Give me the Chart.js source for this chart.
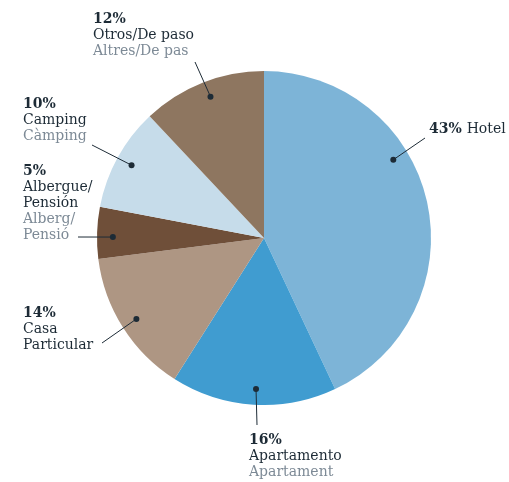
<!DOCTYPE html>
<html>
<head>
<meta charset="utf-8">
<script src="https://cdn.jsdelivr.net/npm/chart.js@4"></script>
<style>
  html, body { margin: 0; padding: 0; background: #fff; }
  #wrap { width: 509px; height: 482px; position: relative; }
</style>
</head>
<body>
<div id="wrap"><canvas id="myChart" width="509" height="482"></canvas></div>
<script>
const categories = ['Hotel', 'Apartamento', 'Casa Particular', 'Albergue/Pensión', 'Camping', 'Otros/De paso'];
const values = [43, 16, 14, 5, 10, 12];
const spanish = [['Hotel'], ['Apartamento'], ['Casa', 'Particular'], ['Albergue/', 'Pensión'], ['Camping'], ['Otros/De paso']];
const catalan = [[], ['Apartament'], [], ['Alberg/', 'Pensió'], ['Càmping'], ['Altres/De pas']];
const colors = ['#7db4d7', '#409cd0', '#ae9683', '#6f4f39', '#c6dcea', '#8e7660'];

// label layout: text anchor, line end, where along the slice the dot sits
const labelLayout = [
  { x: 429, y: 129, inline: true, lx: 425, ly: 138, f: 0.38 },
  { x: 249, y: 440, lx: 257, ly: 425, f: 0.49 },
  { x: 23, y: 313, lx: 102, ly: 343, f: 0.5 },
  { x: 23, y: 171, lx: 78, ly: 237, f: 0.42 },
  { x: 23, y: 104, lx: 92, ly: 145, f: 0.5 },
  { x: 93, y: 19, lx: 195, ly: 62, f: 0.52 }
];

const FONT = '"DejaVu Serif", serif';
const dark = '#1d2b36';
const grey = '#7d8a96';

const labelPlugin = {
  id: 'labels',
  afterDraw(chart) {
    const ctx = chart.ctx;
    const arcs = chart.getDatasetMeta(0).data;
    ctx.save();
    ctx.textBaseline = 'middle';
    ctx.textAlign = 'left';
    arcs.forEach((arc, i) => {
      const L = labelLayout[i];
      const a = arc.startAngle + (arc.endAngle - arc.startAngle) * L.f;
      const r = arc.outerRadius * 0.905;
      const dx = arc.x + Math.cos(a) * r;
      const dy = arc.y + Math.sin(a) * r;
      ctx.strokeStyle = dark;
      ctx.lineWidth = 1;
      ctx.beginPath();
      ctx.moveTo(L.lx, L.ly);
      ctx.lineTo(dx, dy);
      ctx.stroke();
      ctx.fillStyle = dark;
      ctx.beginPath();
      ctx.arc(dx, dy, 3, 0, Math.PI * 2);
      ctx.fill();

      const pct = values[i] + '%';
      ctx.font = 'bold 14px ' + FONT;
      ctx.fillStyle = dark;
      ctx.fillText(pct, L.x, L.y);
      if (L.inline) {
        const w = ctx.measureText(pct + ' ').width;
        ctx.font = '14px ' + FONT;
        ctx.fillText(spanish[i][0], L.x + w, L.y);
        return;
      }
      let y = L.y + 16.3;
      ctx.font = '14px ' + FONT;
      spanish[i].forEach(t => { ctx.fillStyle = dark; ctx.fillText(t, L.x, y); y += 16; });
      catalan[i].forEach(t => { ctx.fillStyle = grey; ctx.fillText(t, L.x, y); y += 16; });
    });
    ctx.restore();
  }
};

new Chart(document.getElementById('myChart'), {
  type: 'pie',
  data: {
    labels: categories,
    datasets: [{
      data: values,
      backgroundColor: colors,
      borderWidth: 0
    }]
  },
  options: {
    responsive: false,
    animation: false,
    layout: { padding: { left: 97, right: 78, top: 71, bottom: 77 } },
    plugins: { legend: { display: false }, tooltip: { enabled: false } }
  },
  plugins: [labelPlugin]
});
</script>
</body>
</html>
